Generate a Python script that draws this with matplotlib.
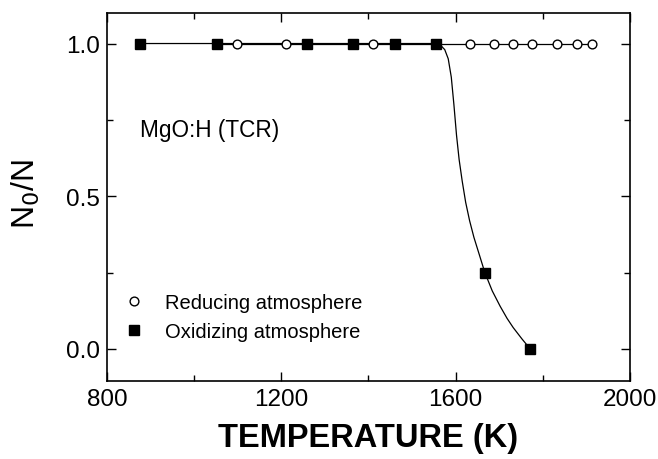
import matplotlib
matplotlib.use("Agg")
import matplotlib.pyplot as plt
from matplotlib.ticker import MultipleLocator, FormatStrFormatter

plt.rcParams["font.family"] = ["Liberation Sans", "DejaVu Sans"]

# ---- data ----
red_T = [1052, 1098, 1211, 1410, 1633, 1688, 1732, 1775, 1833, 1878, 1913]
red_N = [1.0, 1.0, 1.0, 1.0, 1.0, 1.0, 1.0, 1.0, 1.0, 1.0, 1.0]

ox_T = [876, 1052, 1259, 1364, 1461, 1555, 1667, 1771]
ox_N = [1.0, 1.0, 1.0, 1.0, 1.0, 1.0, 0.25, 0.0]

# drawn fit curve through the oxidizing points
fit_T = [876, 1555, 1565, 1575, 1583, 1590, 1596, 1602, 1608, 1615, 1623,
         1632, 1642, 1654, 1667, 1684, 1702, 1718, 1732, 1752, 1771]
fit_N = [1.0, 1.0, 0.995, 0.98, 0.95, 0.89, 0.80, 0.70, 0.62, 0.55, 0.48,
         0.42, 0.365, 0.31, 0.25, 0.19, 0.14, 0.10, 0.07, 0.033, 0.0]

fig = plt.figure(figsize=(6.58, 4.60), dpi=100)
ax = fig.add_axes([0.1626, 0.1696, 0.7948, 0.8000])

ax.plot(red_T, red_N, color="black", lw=0.9, zorder=2)
ax.plot(fit_T, fit_N, color="black", lw=0.9, zorder=2)
ax.plot(red_T, red_N, ls="none", marker="o", ms=6.3, mfc="white",
        mec="black", mew=1.0, zorder=3, label="Reducing atmosphere")
ax.plot(ox_T, ox_N, ls="none", marker="s", ms=6.5, mfc="black",
        mec="black", zorder=4, label="Oxidizing atmosphere")

ax.set_xlim(800, 2000)
ax.set_ylim(-0.105, 1.10)
ax.xaxis.set_major_locator(MultipleLocator(400))
ax.xaxis.set_minor_locator(MultipleLocator(200))
ax.yaxis.set_major_locator(MultipleLocator(0.5))
ax.yaxis.set_minor_locator(MultipleLocator(0.25))
ax.yaxis.set_major_formatter(FormatStrFormatter("%.1f"))
ax.tick_params(which="both", direction="in", top=True, right=True,
               width=1.0, labelsize=17.5, pad=5)
ax.tick_params(which="major", length=6.5)
ax.tick_params(which="minor", length=4)
for s in ax.spines.values():
    s.set_linewidth(1.2)

ax.set_xlabel("TEMPERATURE (K)", fontsize=23.5, fontweight="bold", labelpad=9)
ax.set_ylabel("N$_0$/N", fontsize=23)
ax.yaxis.set_label_coords(-0.125, 0.51)

ax.text(875, 0.72, "MgO:H (TCR)", fontsize=16.3, va="center")

ax.legend(loc="lower left", bbox_to_anchor=(0.0, 0.07), frameon=False,
          fontsize=14.5, handletextpad=0.9, labelspacing=0.5,
          borderaxespad=0.3, handlelength=1.3)

fig.savefig("out.png", dpi=100)
